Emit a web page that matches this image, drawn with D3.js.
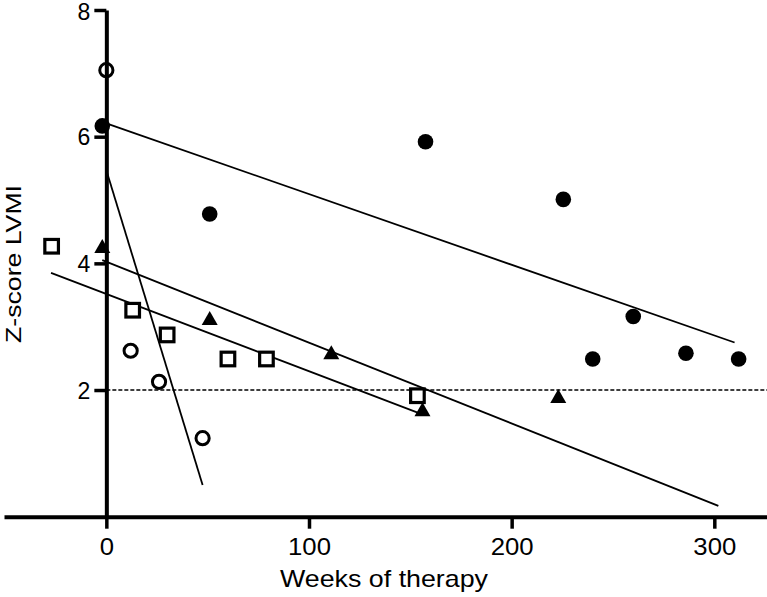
<!DOCTYPE html>
<html><head><meta charset="utf-8">
<script src="https://cdn.jsdelivr.net/npm/d3@7"></script>
<style>body{margin:0;background:#fff}svg{display:block}text{font-family:"Liberation Sans",Arial,sans-serif;fill:#000}</style>
</head><body><svg id="c" width="767" height="597"></svg>
<script>
const xTicks = [0, 100, 200, 300];
const yTicks = [2, 4, 6, 8];
const refLine = 2;

const filledX = [-2, 51, 157.5, 225.5, 240, 260, 286, 312];
const filledY = [6.17, 4.78, 5.92, 5.01, 2.49, 3.16, 2.58, 2.49];
const openX = [0, 12, 26, 47.5];
const openY = [7.05, 2.62, 2.13, 1.24];
const squareX = [-27, 13, 30, 60, 79, 153.5];
const squareY = [4.27, 3.26, 2.87, 2.49, 2.49, 1.91];
const triX = [-2, 51, 111, 156, 223];
const triY = [4.26, 3.12, 2.58, 1.68, 1.89];

// regression line endpoints [x0, x1], [y0, y1]
const fitFilledX = [0, 310], fitFilledY = [6.21, 2.75];
const fitOpenX = [0, 47.5], fitOpenY = [5.47, 0.5];
const fitTriX = [-2, 302], fitTriY = [4.05, 0.17];
const fitSquareX = [-27.3, 154.6], fitSquareY = [3.85, 1.63];

const svg = d3.select("#c");
const x = d3.scaleLinear().domain([-50.5, 326]).range([4, 767]);
const y = d3.scaleLinear().domain([0, 8]).range([516.7, 10]);

// reference dotted line
svg.append("line").attr("x1", x(0)).attr("x2", 767)
  .attr("y1", y(refLine)).attr("y2", y(refLine))
  .attr("stroke", "#000").attr("stroke-width", 1.6).attr("stroke-dasharray", "4,2");

// fit lines
const fits = [[fitFilledX, fitFilledY], [fitOpenX, fitOpenY], [fitTriX, fitTriY], [fitSquareX, fitSquareY]];
fits.forEach(([fx, fy]) => {
  svg.append("line").attr("x1", x(fx[0])).attr("x2", x(fx[1]))
    .attr("y1", y(fy[0])).attr("y2", y(fy[1]))
    .attr("stroke", "#000").attr("stroke-width", 1.8);
});

// axes
const xAxis = svg.append("g").attr("transform", `translate(0,${y(0)})`)
  .call(d3.axisBottom(x).tickValues(xTicks).tickSize(12).tickSizeOuter(0).tickPadding(10));
const yAxis = svg.append("g").attr("transform", `translate(${x(0)},0)`)
  .call(d3.axisLeft(y).tickValues(yTicks).tickSize(12).tickSizeOuter(0).tickPadding(4));
[xAxis, yAxis].forEach(g => {
  g.select(".domain").attr("stroke", "#000").attr("stroke-width", 4);
  g.selectAll(".tick line").attr("stroke", "#000").attr("stroke-width", 3.5);
  g.selectAll(".tick text").style("font-size", "23px").attr("fill", "#000");
});
xAxis.selectAll(".tick text").attr("dy", "0.71em")
  .attr("textLength", d => String(d).length * 14.3).attr("lengthAdjust", "spacingAndGlyphs");
yAxis.selectAll(".tick text").attr("dy", d => d === 8 ? "0.42em" : "0.36em");

// markers
const filled = filledX.map((v, i) => [v, filledY[i]]);
svg.selectAll(".fc").data(filled).enter().append("circle")
  .attr("cx", d => x(d[0])).attr("cy", d => y(d[1])).attr("r", 7.8).attr("fill", "#000");

const open = openX.map((v, i) => [v, openY[i]]);
svg.selectAll(".oc").data(open).enter().append("circle")
  .attr("cx", d => x(d[0])).attr("cy", d => y(d[1])).attr("r", 6.6)
  .attr("fill", "none").attr("stroke", "#000").attr("stroke-width", 3);

const sq = squareX.map((v, i) => [v, squareY[i]]);
svg.selectAll(".sq").data(sq).enter().append("rect")
  .attr("x", d => x(d[0]) - 6.8).attr("y", d => y(d[1]) - 6.8)
  .attr("width", 13.6).attr("height", 13.6)
  .attr("fill", "#fff").attr("stroke", "#000").attr("stroke-width", 3.2);

const tri = triX.map((v, i) => [v, triY[i]]);
svg.selectAll(".tr").data(tri).enter().append("path")
  .attr("d", d => { const cx = x(d[0]), cy = y(d[1]); return `M${cx},${cy-8}L${cx+8},${cy+6}L${cx-8},${cy+6}Z`; })
  .attr("fill", "#000");

// labels
svg.append("text").attr("x", 384).attr("y", 587).attr("text-anchor", "middle")
  .style("font-size", "24px").attr("textLength", 208).attr("lengthAdjust", "spacingAndGlyphs")
  .text("Weeks of therapy");
svg.append("text").attr("transform", "translate(21,264) rotate(-90)").attr("text-anchor", "middle")
  .style("font-size", "22px").attr("textLength", 158).attr("lengthAdjust", "spacingAndGlyphs")
  .text("Z-score LVMI");
</script></body></html>
